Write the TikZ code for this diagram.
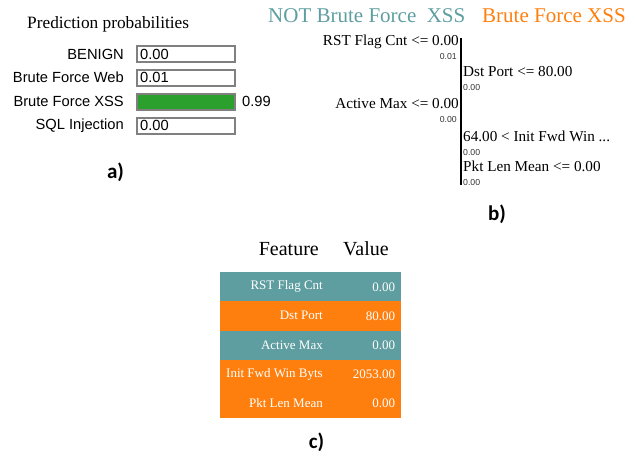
\documentclass[tikz,border=0pt]{standalone}
\usepackage{fontspec}
\setmainfont{Liberation Serif}
\setsansfont{Liberation Sans}
\newfontfamily\capfont{Carlito}
\usetikzlibrary{positioning}
\definecolor{cadet}{RGB}{95,158,160}
\definecolor{xssorange}{RGB}{255,127,14}
\definecolor{bargreen}{RGB}{44,160,44}
\newcommand\cutmark{...}

\begin{document}
\begin{tikzpicture}[x=1pt, y=-1pt,
    ptitle/.style={font=\fontsize{17.3}{20}\selectfont, inner sep=0pt},
    problabel/.style={font=\sffamily\fontsize{14.7}{17}\selectfont, inner sep=0pt, anchor=east},
    probbox/.style={draw=gray, line width=2pt, minimum width=98pt, minimum height=16pt, inner sep=0pt, anchor=west},
    probval/.style={font=\sffamily\fontsize{14.7}{17}\selectfont, inner sep=0pt},
    clsname/.style={font=\fontsize{21}{24}\selectfont, inner sep=0pt, anchor=west},
    rule/.style={font=\fontsize{15.2}{18}\selectfont, inner sep=0pt},
    contrib/.style={font=\sffamily\fontsize{8.7}{10}\selectfont, text=black!80, inner sep=0pt},
    thead/.style={font=\fontsize{20}{24}\selectfont, inner sep=0pt},
    rowbox/.style={minimum width=181pt, minimum height=29.3pt, inner sep=0pt, anchor=north west},
    cell/.style={font=\fontsize{13}{15}\selectfont, text=white, inner sep=0pt, anchor=east},
    caption/.style={font=\capfont\bfseries\fontsize{21}{24}\selectfont, inner sep=0pt}]
    \useasboundingbox (0,0) rectangle (635,456);

    % a) prediction probabilities
    \node[ptitle, anchor=west] (probtitle) at (27,24) {Prediction probabilities};
    \foreach \nm/\lab/\val/\yy in {benign/BENIGN/0.00/54, web/Brute Force Web/0.01/77.5, sql/SQL Injection/0.00/125.5} {
        \node[problabel] (\nm-lab) at (124,\yy) {\lab};
        \node[probbox] (\nm-box) at (136,\yy) {};
        \node[probval, anchor=west] (\nm-val) at ([xshift=4pt]\nm-box.west) {\val};
    }
    \node[problabel] (xss-lab) at (124,101.5) {Brute Force XSS};
    \node[probbox, fill=bargreen] (xss-box) at (136,101.5) {};
    \node[probval, right=6pt of xss-box] (xss-val) {0.99};
    \node[caption] (capa) at (115.5,172) {a)};

    % b) explanation
    \node[clsname, text=cadet] (notcls) at (268,16) {NOT Brute Force\ \ XSS};
    \node[clsname, text=xssorange] (xsscls) at (482,16) {Brute Force XSS};
    \coordinate (ltop) at (461,38);
    \coordinate (lbot) at (461,185);
    \draw[line width=2.5pt] (ltop) -- (lbot);

    \foreach \nm/\lab/\wt/\yy in {rst/RST Flag Cnt <= 0.00/0.01/42, act/Active Max <= 0.00/0.00/104} {
        \node[rule, anchor=east] (\nm-rule) at (459,\yy) {\lab};
        \node[contrib, anchor=east] (\nm-wt) at (457,\yy+15) {\wt};
    }
    \foreach \nm/\lab/\wt/\yy in {dst/Dst Port <= 80.00/0.00/72, ifw/64.00 < Init Fwd Win \cutmark/0.00/136, plm/Pkt Len Mean <= 0.00/0.00/166} {
        \node[rule, anchor=west] (\nm-rule) at (463,\yy) {\lab};
        \node[contrib, anchor=west] (\nm-wt) at (463,\yy+16) {\wt};
    }
    \node[caption] (capb) at (497,214) {b)};

    % c) feature values
    \node[thead, anchor=east] (hfeat) at (319,249) {Feature};
    \node[thead, anchor=west] (hval) at (343,249) {Value};
    \foreach \i/\feat/\v/\col in {0/RST Flag Cnt/0.00/cadet, 1/Dst Port/80.00/xssorange, 2/Active Max/0.00/cadet, 3/Init Fwd Win Byts/2053.00/xssorange, 4/Pkt Len Mean/0.00/xssorange} {
        \node[rowbox, fill=\col] (row\i) at (220,272+29.2*\i) {};
        \node[cell] (feat\i) at (323,286.6+29.2*\i) {\feat};
        \node[cell] (val\i) at ([xshift=-6pt]row\i.east) {\v};
    }
    \node[caption] (capc) at (316.5,442) {c)};
\end{tikzpicture}
\end{document}
